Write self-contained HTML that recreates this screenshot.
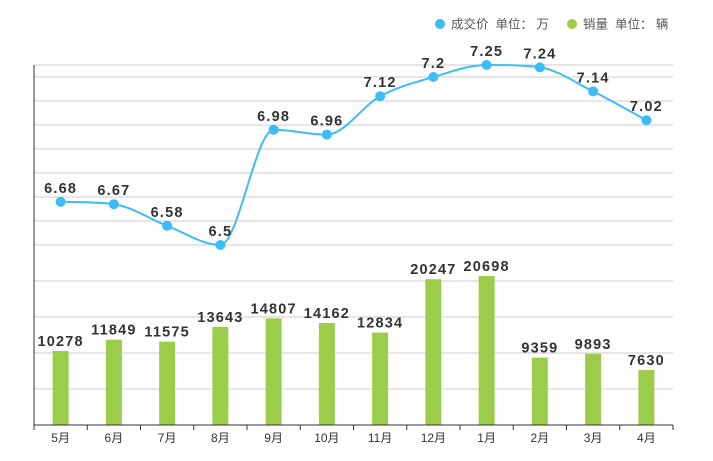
<!DOCTYPE html>
<html><head><meta charset="utf-8"><style>
body{margin:0;background:#fff;}
svg{display:block;font-family:"Liberation Sans","Noto Sans CJK SC",sans-serif;}
</style></head><body>
<svg id="c" width="713" height="461">
<g>
<circle cx="440" cy="24" r="5" fill="#3dbcf6"/>
<text x="451" y="28.5" font-size="12.5" fill="#555">成交价&#160;&#160;单位：&#160;万</text>
<circle cx="572" cy="24" r="5" fill="#9bcd4a"/>
<text x="583" y="28.5" font-size="12.5" fill="#555">销量&#160;&#160;单位：&#160;辆</text>
</g>
<g id="grid"></g>
<g id="bars"></g>
<g id="line"></g>
<g id="axis"></g>
</svg>
<script>
const categories=["5月","6月","7月","8月","9月","10月","11月","12月","1月","2月","3月","4月"];
const priceValues=[6.68,6.67,6.58,6.5,6.98,6.96,7.12,7.2,7.25,7.24,7.14,7.02];
const salesValues=[10278,11849,11575,13643,14807,14162,12834,20247,20698,9359,9893,7630];
const priceGridTicks=[6.5,6.6,6.7,6.8,6.9,7.0,7.1,7.2,7.25];
const salesGridTicks=[5000,10000,15000,20000];
const NS="http://www.w3.org/2000/svg";
const L=34,R=673,B=425;
const step=(R-L)/categories.length;
const x=i=>L+step*(i+0.5);
const yP=v=>245-(v-6.5)*240;
const yS=v=>B-v*(36/5000);
function mk(tag,attrs,parent){const e=document.createElementNS(NS,tag);for(const k in attrs)e.setAttribute(k,attrs[k]);parent.appendChild(e);return e;}
const grid=document.getElementById('grid');
priceGridTicks.forEach(t=>{const l=mk('line',{x1:L,x2:R,y1:yP(t),y2:yP(t),stroke:'#ccc','stroke-width':1},grid);

});
salesGridTicks.forEach(t=>{const l=mk('line',{x1:L,x2:R,y1:yS(t),y2:yS(t),stroke:'#ccc','stroke-width':1},grid);

});
const yl=mk('line',{x1:L,x2:L,y1:65,y2:B,stroke:'#333','stroke-width':1},grid);


const lblStyle={'text-anchor':'middle','font-size':14.5,'font-weight':'bold',fill:'#333','letter-spacing':'1.2'};
const bars=document.getElementById('bars');
salesValues.forEach((v,i)=>{
const r=mk('rect',{x:x(i)-8,y:yS(v),width:16,height:B-yS(v),fill:'#9bcd4a'},bars);


const t=mk('text',Object.assign({x:x(i),y:yS(v)-5},lblStyle),bars);
t.textContent=v;


});
const line=document.getElementById('line');
const pts=priceValues.map((v,i)=>[x(i),yP(v)]);
// monotone cubic
const n=pts.length,dl=[],m=[];
for(let i=0;i<n-1;i++)dl.push((pts[i+1][1]-pts[i][1])/(pts[i+1][0]-pts[i][0]));
m[0]=dl[0];m[n-1]=dl[n-2];
for(let i=1;i<n-1;i++){m[i]=(dl[i-1]*dl[i]<=0)?0:(dl[i-1]+dl[i])/2;}
for(let i=0;i<n-1;i++){if(dl[i]===0){m[i]=0;m[i+1]=0;continue;}const a=m[i]/dl[i],b=m[i+1]/dl[i],h=a*a+b*b;if(h>9){const t=3/Math.sqrt(h);m[i]=t*a*dl[i];m[i+1]=t*b*dl[i];}}
let d='M'+pts[0][0]+','+pts[0][1];
for(let i=0;i<n-1;i++){const h=(pts[i+1][0]-pts[i][0])/3;
d+=' C'+(pts[i][0]+h)+','+(pts[i][1]+m[i]*h)+' '+(pts[i+1][0]-h)+','+(pts[i+1][1]-m[i+1]*h)+' '+pts[i+1][0]+','+pts[i+1][1];}
const path=mk('path',{d:d,fill:'none',stroke:'#3dbcf6','stroke-width':2},line);


pts.forEach((p,i)=>{
const c=mk('circle',{cx:p[0],cy:p[1],r:5,fill:'#3dbcf6'},line);


const t=mk('text',Object.assign({x:p[0],y:p[1]-9},lblStyle),line);
t.textContent=priceValues[i];


});
const axis=document.getElementById('axis');
const al=mk('line',{x1:L,x2:R,y1:B,y2:B,stroke:'#333','stroke-width':1},axis);


for(let i=0;i<=categories.length;i++){
const tk=mk('line',{x1:L+step*i,x2:L+step*i,y1:B,y2:B+5,stroke:'#333'},axis);


}
categories.forEach((c,i)=>{
const t=mk('text',{x:x(i),y:B+17,'text-anchor':'middle','font-size':12,fill:'#333'},axis);
t.textContent=c;


});
</script>
</body></html>
